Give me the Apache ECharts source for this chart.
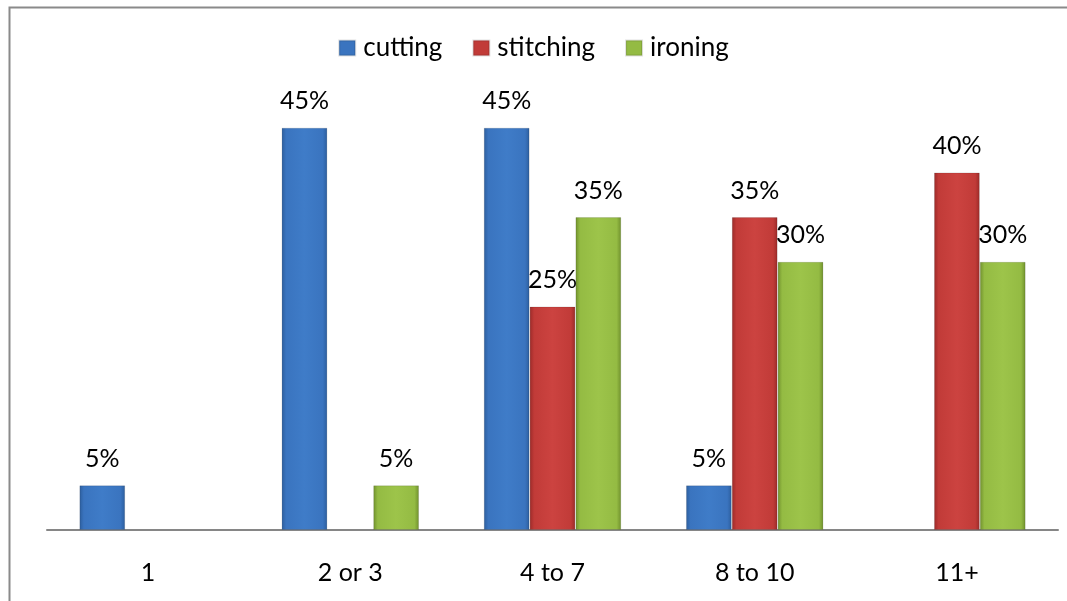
<!DOCTYPE html>
<html>
<head>
<meta charset="utf-8">
<script src="https://cdn.jsdelivr.net/npm/echarts@6/dist/echarts.min.js"></script>
<style>html,body{margin:0;padding:0;background:#fff}#c{width:1067px;height:601px}</style>
</head>
<body>
<div id="c"></div>
<script>
const categories = ['1', '2 or 3', '4 to 7', '8 to 10', '11+'];
const cutting = [5, 45, 45, 5, 0];
const stitching = [0, 0, 25, 35, 40];
const ironing = [0, 5, 35, 30, 30];
const seriesNames = ['cutting', 'stitching', 'ironing'];

const FONT = 'Lato';
function grad(dark, mid, light) {
  return new echarts.graphic.LinearGradient(0, 0, 1, 0, [
    {offset: 0, color: dark},
    {offset: 0.1, color: mid},
    {offset: 0.5, color: light},
    {offset: 0.9, color: mid},
    {offset: 1, color: dark}
  ]);
}
const colors = [
  grad('#2c5d9c', '#3a74bf', '#3f7cc8'),
  grad('#9a2a28', '#c13b38', '#cc4340'),
  grad('#6f8f2c', '#94bb43', '#9dc44a')
];
const legendColors = ['#3a74bf', '#c13b38', '#94bb43'];

function mk(name, data, i) {
  return {
    name: name,
    type: 'bar',
    data: data.map(v => v === 0 ? null : v),
    barGap: '0%',
    barCategoryGap: '32%',
    itemStyle: {color: colors[i], borderColor: 'rgba(0,0,0,0.12)', borderWidth: 1},
    label: {
      show: true, position: 'top', distance: 14,
      fontFamily: FONT, fontSize: 25, color: '#000',
      formatter: p => p.value + '%'
    }
  };
}

const chart = echarts.init(document.getElementById('c'), null, {renderer: 'canvas'});
chart.setOption({
  animation: false,
  backgroundColor: '#fff',
  graphic: [{
    type: 'rect', left: 7, top: 5,
    shape: {width: 1200, height: 800},
    style: {fill: 'none', stroke: '#8a8a8a', lineWidth: 2}
  }],
  legend: {
    top: 30, left: 'center', icon: 'rect',
    itemWidth: 16, itemHeight: 15, itemGap: 30,
    textStyle: {fontFamily: FONT, fontSize: 26, color: '#000', padding: [0, 0, 0, 3]},
    data: seriesNames.map((n, i) => ({name: n, itemStyle: {color: legendColors[i]}}))
  },
  grid: {left: 47, right: 9, top: 83, bottom: 71},
  xAxis: {
    type: 'category', data: categories,
    axisLine: {lineStyle: {color: '#868686', width: 2}},
    axisTick: {show: false},
    axisLabel: {fontFamily: FONT, fontSize: 25, color: '#000', margin: 30}
  },
  yAxis: {
    type: 'value', min: 0, max: 50, interval: 10,
    show: false, splitLine: {show: false}
  },
  series: [mk(seriesNames[0], cutting, 0), mk(seriesNames[1], stitching, 1), mk(seriesNames[2], ironing, 2)]
});
</script>
</body>
</html>
